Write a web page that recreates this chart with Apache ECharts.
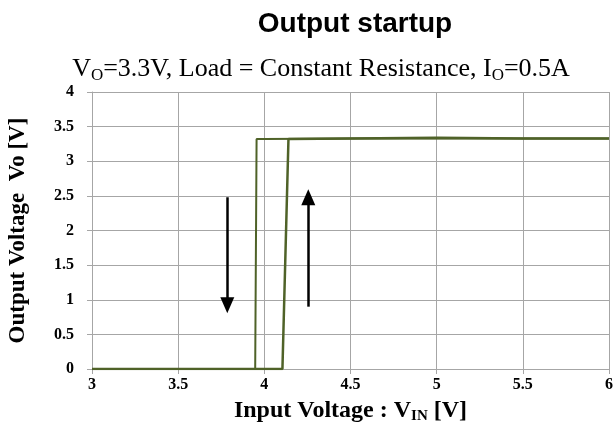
<!DOCTYPE html>
<html>
<head>
<meta charset="utf-8">
<script src="https://cdn.jsdelivr.net/npm/echarts@6/dist/echarts.min.js"></script>
<style>html,body{margin:0;padding:0;background:#fff}#c{width:614px;height:440px}</style>
</head>
<body>
<div id="c"></div>
<script>
// Rising input sweep (V_IN increasing)
const upVin = [3.0, 3.5, 4.0, 4.105, 4.14, 4.5, 5.0, 5.5, 6.0];
const upVo  = [0, 0, 0, 0, 3.32, 3.33, 3.34, 3.33, 3.33];
// Falling input sweep (V_IN decreasing)
const downVin = [6.0, 5.5, 5.0, 4.5, 4.0, 3.955, 3.947, 3.5, 3.0];
const downVo  = [3.33, 3.33, 3.33, 3.33, 3.32, 3.32, 0, 0, 0];
// Direction arrows: [x, fromY, toY]
const arrowDown = [3.785, 2.48, 0.92];
const arrowUp   = [4.255, 0.90, 2.48];
const xTicks = [3, 3.5, 4, 4.5, 5, 5.5, 6];
const yTicks = [0, 0.5, 1, 1.5, 2, 2.5, 3, 3.5, 4];

const green = '#4F6228';
const serif = 'Liberation Serif';
const chart = echarts.init(document.getElementById('c'));
const pair = (xs, ys) => xs.map((x, i) => [x, ys[i]]);

chart.setOption({
  animation: false,
  title: [
    { text: 'Output startup', left: 350, textAlign: 'center', top: 5,
      textStyle: { fontFamily: 'Liberation Sans', fontWeight: 'bold', fontSize: 28, color: '#000' } },
    { text: '{n|V}{s|O}{n|=3.3V, Load = Constant Resistance, I}{s|O}{n|=0.5A}',
      left: 316, textAlign: 'center', top: 49,
      textStyle: { fontWeight: 'normal', rich: {
        n: { fontFamily: serif, fontWeight: 'normal', fontSize: 26, color: '#000', lineHeight: 30 },
        s: { fontFamily: serif, fontWeight: 'normal', fontSize: 17, color: '#000', lineHeight: 30, verticalAlign: 'bottom', padding: [9, 0, 0, 0] }
      } } }
  ],
  grid: { left: 92, right: 5, top: 92, bottom: 71, containLabel: false, outerBoundsMode: 'none' },
  xAxis: {
    type: 'value', min: xTicks[0], max: xTicks[xTicks.length - 1], interval: 0.5,
    name: '{n|Input Voltage : V}{s|IN}{n| [V]}',
    nameLocation: 'middle', nameGap: 29,
    nameTextStyle: { rich: {
      n: { fontFamily: serif, fontWeight: 'bold', fontSize: 24, color: '#000', lineHeight: 26 },
      s: { fontFamily: serif, fontWeight: 'bold', fontSize: 15, color: '#000', lineHeight: 26, verticalAlign: 'bottom', padding: [8, 0, 0, 0] }
    } },
    axisLine: { lineStyle: { color: '#A6A6A6', width: 1 } },
    axisTick: { show: true, inside: false, length: 5, lineStyle: { color: '#A6A6A6' } },
    axisLabel: { margin: 8, fontFamily: serif, fontWeight: 'bold', fontSize: 16, color: '#000' },
    splitLine: { show: true, lineStyle: { color: '#A6A6A6', width: 1 } }
  },
  yAxis: {
    type: 'value', min: yTicks[0], max: yTicks[yTicks.length - 1], interval: 0.5,
    name: 'Output Voltage  Vo [V]',
    nameLocation: 'middle', nameGap: 62,
    nameTextStyle: { fontFamily: serif, fontWeight: 'bold', fontSize: 23, color: '#000' },
    axisLine: { show: true, lineStyle: { color: '#A6A6A6', width: 1 } },
    axisTick: { show: true, inside: false, length: 5, lineStyle: { color: '#A6A6A6' } },
    axisLabel: { margin: 18, fontFamily: serif, fontWeight: 'bold', fontSize: 16, color: '#000' },
    splitLine: { show: true, lineStyle: { color: '#A6A6A6', width: 1 } }
  },
  series: [
    { type: 'line', data: pair(downVin, downVo), showSymbol: false, symbol: 'none',
      lineStyle: { color: green, width: 2 }, z: 3 },
    { type: 'line', data: pair(upVin, upVo), showSymbol: false, symbol: 'none',
      lineStyle: { color: green, width: 2.5 }, z: 4,
      markLine: {
        silent: true, symbol: ['none', 'triangle'], symbolSize: [14, 16],
        label: { show: false },
        lineStyle: { color: '#000', width: 2.5, type: 'solid' },
        data: [
          [{ coord: [arrowDown[0], arrowDown[1]] }, { coord: [arrowDown[0], arrowDown[2]] }],
          [{ coord: [arrowUp[0], arrowUp[1]] }, { coord: [arrowUp[0], arrowUp[2]] }]
        ]
      } }
  ]
});
</script>
</body>
</html>
